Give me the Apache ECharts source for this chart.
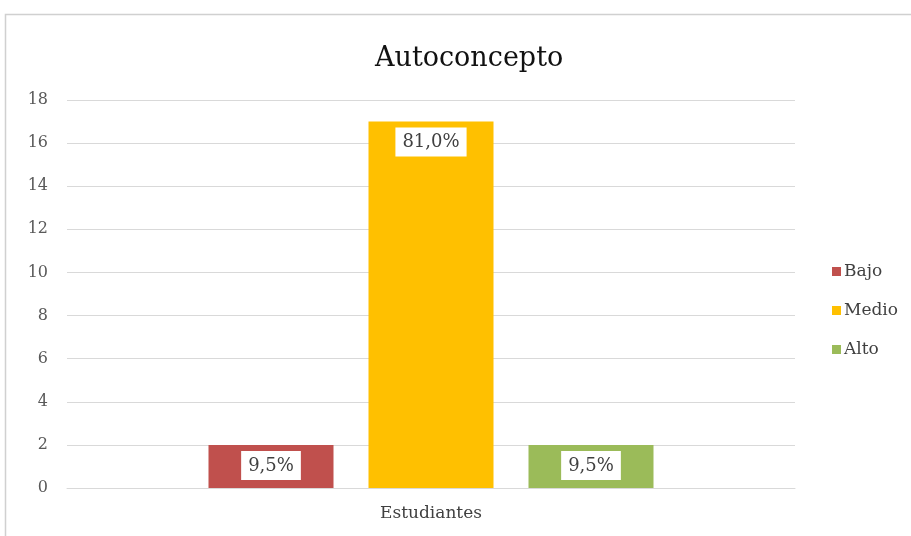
<!DOCTYPE html>
<html><head><meta charset="utf-8">
<script src="https://cdn.jsdelivr.net/npm/echarts@6/dist/echarts.min.js"></script>
<style>html,body{margin:0;padding:0;background:#fff}#c{width:911px;height:536px}</style>
</head><body><div id="c"></div>
<script>
var categories = ['Estudiantes'];
var seriesNames = ['Bajo', 'Medio', 'Alto'];
var bajo = [2];
var medio = [17];
var alto = [2];
var pctLabels = ['9,5%', '81,0%', '9,5%'];
var colors = ['#c0504d', '#ffc000', '#9bbb59'];
var yTicks = {min: 0, max: 18, interval: 2};

var font = '"DejaVu Serif", "Liberation Serif", serif';
var values = [bajo, medio, alto];
var chart = echarts.init(document.getElementById('c'));
var series = seriesNames.map(function (n, i) {
  return {
    name: n, type: 'bar', data: values[i], barWidth: 125, barGap: '28%',
    itemStyle: {color: colors[i]},
    label: {
      show: true, position: 'insideTop', distance: 6,
      formatter: function () { return pctLabels[i]; },
      backgroundColor: '#fff', padding: [6, 7, 5, 7],
      color: '#404040', fontFamily: font, fontSize: 18
    }
  };
});
chart.setOption({
  animation: false,
  backgroundColor: '#fff',
  graphic: [{type: 'rect', shape: {x: 5.5, y: 14.5, width: 920, height: 540},
    style: {fill: 'none', stroke: '#d0d0d0', lineWidth: 1.5}, z: -1}],
  title: {text: 'Autoconcepto', left: 370, top: 40,
    textStyle: {fontFamily: font, fontSize: 27, fontWeight: 'normal', color: '#111'}},
  legend: {
    orient: 'vertical', left: 827, top: 258, itemGap: 22,
    itemWidth: 9, itemHeight: 9, icon: 'rect',
    textStyle: {fontFamily: font, fontSize: 17, color: '#404040', padding: [0, 0, 0, -2]},
    data: seriesNames
  },
  grid: {left: 67, right: 116, top: 100, bottom: 48},
  xAxis: {type: 'category', data: categories,
    axisLine: {lineStyle: {color: '#d9d9d9'}}, axisTick: {show: false},
    axisLabel: {fontFamily: font, fontSize: 17, color: '#404040', margin: 17}},
  yAxis: {type: 'value', min: yTicks.min, max: yTicks.max, interval: yTicks.interval,
    axisLine: {show: false}, axisTick: {show: false},
    splitLine: {lineStyle: {color: '#d9d9d9'}},
    axisLabel: {fontFamily: font, fontSize: 16, color: '#595959', margin: 19}},
  series: series
});
</script></body></html>
